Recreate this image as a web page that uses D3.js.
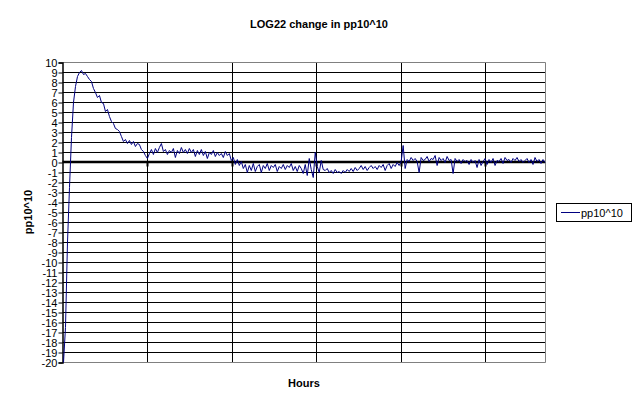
<!DOCTYPE html>
<html>
<head>
<meta charset="utf-8">
<script src="https://cdn.jsdelivr.net/npm/d3@7"></script>
<style>
  body { margin: 0; background: #fff; }
  svg { display: block; font-family: "Liberation Sans", Arial, sans-serif; }
</style>
</head>
<body>
<script>
var width = 641,
    height = 409;

var title = "LOG22 change in pp10^10",
    seriesName = "pp10^10",
    xTitle = "Hours",
    yTitle = "pp10^10";

// y axis ticks, -20 .. 10
var yTicks = [-20, -19, -18, -17, -16, -15, -14, -13, -12, -11, -10, -9, -8, -7, -6,
              -5, -4, -3, -2, -1, 0, 1, 2, 3, 4, 5, 6, 7, 8, 9, 10];
// hour marks on the category axis (no labels shown)
var hourTicks = [1, 2, 3, 4, 5];
var hourMax = 5.7;

// values, evenly spaced over the run
var values = [
  -20, -16.5, -8, -2.5, 2.5, 6, 7.6, 8.6, 9.0, 9.2,
  8.8, 8.9, 8.6, 8.3, 8.1, 7.4, 7.0, 6.5, 6.7, 6.0,
  5.9, 5.1, 5.3, 4.6, 4.1, 3.9, 3.4, 3.3, 3.1, 2.6,
  2.1, 2.3, 1.9, 2.2, 1.8, 2.1, 1.6, 1.9, 1.8, 1.3,
  1.1, 0.7, 0.4, 0.9, 1.3, 0.8, 1.4, 1.0, 1.5, 1.9,
  1.1, 1.3, 0.8, 1.2, 1.0, 1.4, 0.5, 1.2, 0.9, 1.5,
  1.0, 1.3, 0.9, 1.4, 1.0, 1.3, 0.6, 1.2, 0.8, 1.3,
  0.7, 1.1, 0.4, 1.0, 0.8, 1.2, 0.6, 1.0, 0.7, 0.9,
  0.5, 1.1, 0.7, 0.9, 0.2, 0.5, -0.2, 0.3, -0.3, 0.1,
  -0.6, -0.2, -1.0, -0.3, -0.8, -0.1, -0.9, -0.4, -0.2, -1.0,
  -0.3, -0.6, -0.1, -0.8, -0.3, -0.5, -0.2, -0.9, -0.4, -0.6,
  -0.2, -0.7, -0.3, -0.5, -0.1, -0.8, -0.4, -0.9, -0.3, -0.6,
  -1.1, -0.2, -1.3, 0.4, -0.7, -1.5, 1.0, -0.4, -1.0, 0.2,
  -0.7, -0.8, -0.6, -1.0, -0.8, -1.1, -0.7, -1.0, -0.9, -1.1,
  -0.8, -1.0, -0.7, -0.9, -0.6, -0.9, -0.5, -0.8, -0.6, -0.3,
  -0.7, -0.4, -0.8, -0.5, -0.3, -0.6, -0.4, -0.7, -0.3, -0.5,
  -0.2, -0.8, -0.3, -0.1, -0.6, -0.2, -0.4, 0.0, -0.3, 0.1,
  1.7, -0.6, 0.3, 0.1, 0.5, 0.2, 0.4, 0.1, -1.0, 0.5,
  0.2, 0.3, 0.6, 0.1, 0.4, 0.3, 0.7, -0.3, 0.5, 0.2,
  0.4, 0.0, 0.6, 0.2, 0.3, -1.1, 0.4, 0.1, 0.3, -0.1,
  0.3, 0.1, 0.2, -0.2, 0.3, 0.0, 0.2, -0.5, 0.3, -0.3,
  0.1, 0.4, -0.2, 0.3, 0.0, 0.4, -0.3, 0.2, 0.1, 0.4,
  -0.1, 0.5, 0.2, 0.3, 0.0, 0.4, 0.2, 0.5, 0.1, 0.3,
  0.0, 0.2, 0.4, 0.0, 0.3, -0.2, 0.5, 0.1, 0.3, -0.1,
  0.3, 0.0
];

var plotLeft = 62.5, plotRight = 545, plotTop = 62, plotBottom = 362;

var x = d3.scaleLinear().domain([0, hourMax]).range([63.5, plotRight]);
var y = d3.scaleLinear().domain([-20, 10]).range([plotBottom + 0.5, plotTop + 0.5]);

var svg = d3.select("body").append("svg")
    .attr("width", width)
    .attr("height", height);

// horizontal gridlines
svg.append("g").selectAll("line")
    .data(yTicks.filter(function(d) { return d !== 10 && d !== -20 && d !== 0; }))
    .enter().append("line")
    .attr("x1", plotLeft).attr("x2", plotRight)
    .attr("y1", function(d) { return y(d); })
    .attr("y2", function(d) { return y(d); })
    .attr("stroke", "#000")
    .attr("stroke-width", 1);

// vertical gridlines
svg.append("g").selectAll("line")
    .data(hourTicks)
    .enter().append("line")
    .attr("x1", function(d) { return Math.floor(x(d)) + 0.5; })
    .attr("x2", function(d) { return Math.floor(x(d)) + 0.5; })
    .attr("y1", plotTop).attr("y2", plotBottom)
    .attr("stroke", "#000");

// plot area border (grey top, right, bottom)
svg.append("path")
    .attr("d", "M" + plotLeft + "," + (plotTop + 0.5) + "H" + (plotRight + 0.5) +
               "V" + (plotBottom + 0.5) + "H" + plotLeft)
    .attr("fill", "none")
    .attr("stroke", "#808080");

// category axis at zero with tick marks
svg.append("line")
    .attr("x1", plotLeft).attr("x2", plotRight)
    .attr("y1", y(0) - 0.5).attr("y2", y(0) - 0.5)
    .attr("stroke", "#000")
    .attr("stroke-width", 2.5);

svg.append("g").selectAll("line")
    .data(hourTicks)
    .enter().append("line")
    .attr("x1", function(d) { return Math.floor(x(d)) + 0.5; })
    .attr("x2", function(d) { return Math.floor(x(d)) + 0.5; })
    .attr("y1", y(0)).attr("y2", y(0) + 4)
    .attr("stroke", "#000")
    .attr("stroke-width", 2);

// value axis
var yAxis = d3.axisLeft(y)
    .tickValues(yTicks)
    .tickSize(4)
    .tickPadding(1)
    .tickFormat(function(d) { return d < 0 ? "-" + Math.abs(d) : String(d); });

var gy = svg.append("g")
    .attr("transform", "translate(" + plotLeft + ",0)")
    .call(yAxis);
gy.select(".domain").attr("stroke", "#000").attr("stroke-width", 1.5);
gy.selectAll(".tick line").attr("stroke", "#000");
gy.selectAll(".tick text")
    .attr("fill", "#000")
    .style("font-size", "11px");

// series
var line = d3.line()
    .x(function(d, i) { return x(i * hourMax / (values.length - 1)); })
    .y(function(d) { return y(d); });

svg.append("path")
    .datum(values)
    .attr("fill", "none")
    .attr("stroke", "#000080")
    .attr("stroke-width", 1)
    .attr("d", line);

// titles
svg.append("text")
    .attr("x", 319).attr("y", 28)
    .attr("text-anchor", "middle")
    .style("font-size", "11px").style("font-weight", "bold")
    .text(title);

svg.append("text")
    .attr("x", 304).attr("y", 386.5)
    .attr("text-anchor", "middle")
    .style("font-size", "11px").style("font-weight", "bold")
    .text(xTitle);

svg.append("text")
    .attr("transform", "translate(32,212) rotate(-90)")
    .attr("text-anchor", "middle")
    .style("font-size", "11px").style("font-weight", "bold")
    .text(yTitle);

// legend
var legend = svg.append("g");
legend.append("rect")
    .attr("x", 556.5).attr("y", 203.5)
    .attr("width", 75).attr("height", 18)
    .attr("fill", "#fff")
    .attr("stroke", "#000");
legend.append("line")
    .attr("x1", 561).attr("x2", 580)
    .attr("y1", 212.5).attr("y2", 212.5)
    .attr("stroke", "#000080");
legend.append("text")
    .attr("x", 581).attr("y", 216.5)
    .style("font-size", "11px")
    .text(seriesName);
</script>
</body>
</html>
